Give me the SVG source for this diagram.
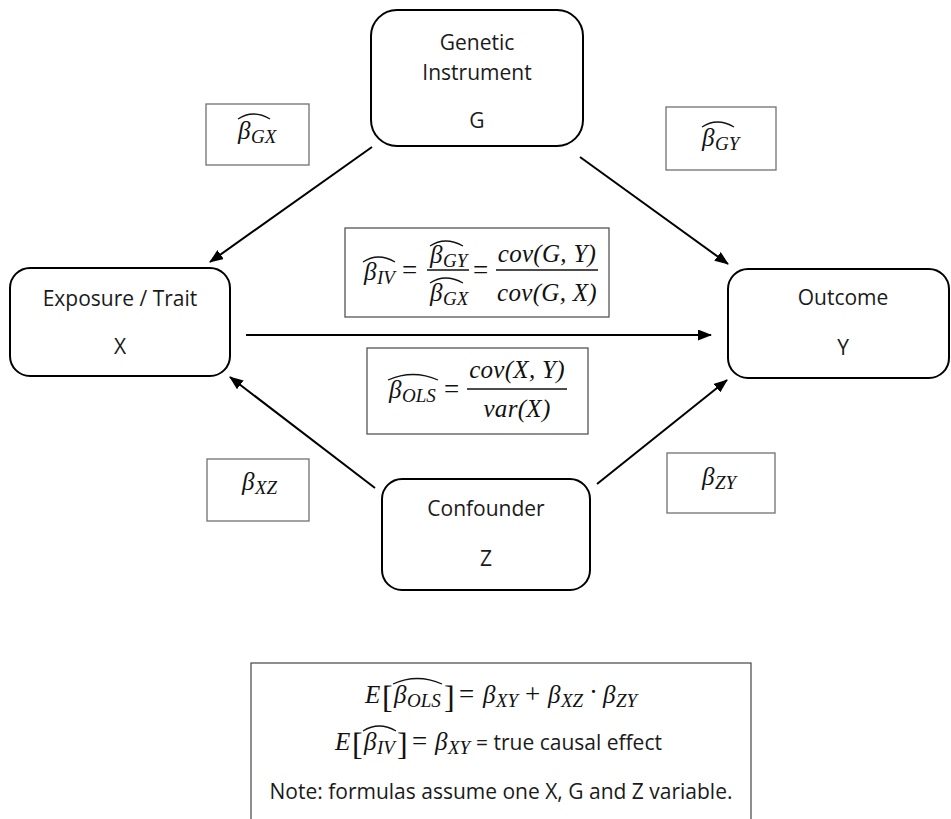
<svg xmlns="http://www.w3.org/2000/svg" width="951" height="819" viewBox="0 0 951 819">
<defs>
<marker id="ah" markerUnits="userSpaceOnUse" markerWidth="14" markerHeight="11" refX="13" refY="5.5" orient="auto">
<path d="M0,0 L14,5.5 L0,11 z" fill="#000"/>
</marker>
<style>
.node{fill:#fff;stroke:#000;stroke-width:2}
.lbl{fill:#fff;stroke:#707070;stroke-width:1.3}
.fbox{fill:#fff;stroke:#555;stroke-width:1.3}
.t{font-family:"Open Sans","Noto Sans",sans-serif;font-size:21px;fill:#1a1a1a;text-anchor:middle}
.tl{font-family:"Open Sans","Noto Sans",sans-serif;font-size:21px;fill:#1a1a1a}
.m{font-family:"Liberation Serif","DejaVu Serif",serif;font-style:italic;font-size:25px;fill:#111}
.mc{font-family:"Liberation Serif","DejaVu Serif",serif;font-style:italic;font-size:25px;fill:#111;text-anchor:middle;letter-spacing:0.3px}
.s{font-family:"Liberation Serif","DejaVu Serif",serif;font-style:italic;font-size:19px;fill:#111}
.u{font-family:"Liberation Serif","DejaVu Serif",serif;font-size:27px;fill:#111}
.b{font-family:"Liberation Serif","DejaVu Serif",serif;font-size:32px;fill:#111}
.hat{fill:none;stroke:#111;stroke-width:1.3}
.c{stroke:#000;stroke-width:2;fill:none;marker-end:url(#ah)}
</style>
</defs>
<rect width="951" height="819" fill="#fff"/>

<g id="connectors">
<line class="c" x1="372" y1="147" x2="210" y2="262"/>
<line class="c" x1="580" y1="157" x2="728" y2="264"/>
<line class="c" x1="246" y1="335" x2="711" y2="335"/>
<line class="c" x1="375" y1="488" x2="230" y2="377"/>
<line class="c" x1="597" y1="484" x2="727" y2="380"/>
</g>

<g id="node-G">
<rect class="node" x="371" y="10" width="212" height="136" rx="26"/>
<text class="t" x="477" y="50">Genetic</text>
<text class="t" x="477" y="80">Instrument</text>
<text class="t" x="477" y="128">G</text>
</g>

<g id="node-X">
<rect class="node" x="10" y="268" width="220" height="108" rx="20"/>
<text class="t" x="120" y="306">Exposure / Trait</text>
<text class="t" x="120" y="354">X</text>
</g>

<g id="node-Y">
<rect class="node" x="728" y="269" width="221" height="109" rx="20"/>
<text class="t" x="843" y="305">Outcome</text>
<text class="t" x="843" y="355">Y</text>
</g>

<g id="node-Z">
<rect class="node" x="382" y="479" width="208" height="111" rx="20"/>
<text class="t" x="486" y="516">Confounder</text>
<text class="t" x="486" y="566">Z</text>
</g>

<g id="label-GX">
<rect class="lbl" x="206" y="104" width="103" height="61"/>
<text class="m" x="238" y="139">β</text>
<text class="s" x="251" y="143">GX</text>
<path class="hat" d="M238,119 Q253,109 270,119"/>
</g>

<g id="label-GY">
<rect class="lbl" x="666" y="107" width="110" height="63"/>
<text class="m" x="702" y="146">β</text>
<text class="s" x="715" y="150">GY</text>
<path class="hat" d="M702,127 Q717,117 734,127"/>
</g>

<g id="label-XZ">
<rect class="lbl" x="207" y="459" width="102" height="62"/>
<text class="m" x="242" y="490">β</text>
<text class="s" x="255" y="494">XZ</text>
</g>

<g id="label-ZY">
<rect class="lbl" x="667" y="453" width="108" height="60"/>
<text class="m" x="702" y="485">β</text>
<text class="s" x="715" y="489">ZY</text>
</g>

<g id="formula-IV">
<rect class="fbox" x="345" y="228" width="264" height="89"/>
<text class="m" x="364" y="280">β</text>
<text class="s" x="377" y="284">IV</text>
<path class="hat" d="M363,262 Q378,252 395,262"/>
<text class="u" x="402" y="279">=</text>
<text class="m" x="430" y="263">β</text>
<text class="s" x="443" y="267">GY</text>
<path class="hat" d="M430,246 Q445,236 463,246"/>
<line x1="427" y1="270" x2="469" y2="270" stroke="#111" stroke-width="1.3"/>
<text class="m" x="430" y="301">β</text>
<text class="s" x="443" y="305">GX</text>
<path class="hat" d="M430,283 Q445,273 463,283"/>
<text class="u" x="473" y="279">=</text>
<text class="mc" x="547" y="262">cov(G, Y)</text>
<line x1="496" y1="270" x2="598" y2="270" stroke="#111" stroke-width="1.3"/>
<text class="mc" x="547" y="301">cov(G, X)</text>
</g>

<g id="formula-OLS">
<rect class="fbox" x="367" y="348" width="221" height="86"/>
<text class="m" x="389" y="398">β</text>
<text class="s" x="402" y="402">OLS</text>
<path class="hat" d="M388,380 Q413,369 438,380"/>
<text class="u" x="444" y="398">=</text>
<text class="mc" x="517" y="378">cov(X, Y)</text>
<line x1="467" y1="389" x2="567" y2="389" stroke="#111" stroke-width="1.3"/>
<text class="mc" x="517" y="417">var(X)</text>
</g>

<g id="summary">
<rect x="251" y="663" width="500" height="170" fill="#fff" stroke="#444" stroke-width="1.2"/>
<text class="m" x="365" y="703">E</text>
<text class="b" x="382" y="708">[</text>
<text class="m" x="394" y="703">β</text>
<text class="s" x="407" y="707">OLS</text>
<path class="hat" d="M393,684 Q417,673 442,684"/>
<text class="b" x="444" y="708">]</text>
<text class="u" x="459" y="703">=</text>
<text class="m" x="483" y="703">β</text>
<text class="s" x="496" y="707">XY</text>
<text class="u" x="525" y="703">+</text>
<text class="m" x="548" y="703">β</text>
<text class="s" x="561" y="707">XZ</text>
<text class="u" x="589" y="701">·</text>
<text class="m" x="603" y="703">β</text>
<text class="s" x="616" y="707">ZY</text>

<text class="m" x="335" y="750">E</text>
<text class="b" x="352" y="755">[</text>
<text class="m" x="364" y="750">β</text>
<text class="s" x="377" y="754">IV</text>
<path class="hat" d="M363,731 Q379,721 396,731"/>
<text class="b" x="397" y="755">]</text>
<text class="u" x="412" y="750">=</text>
<text class="m" x="435" y="750">β</text>
<text class="s" x="448" y="754">XY</text>
<text class="tl" x="476" y="750">= true causal effect</text>

<text class="t" x="501" y="799">Note: formulas assume one X, G and Z variable.</text>
</g>
</svg>
